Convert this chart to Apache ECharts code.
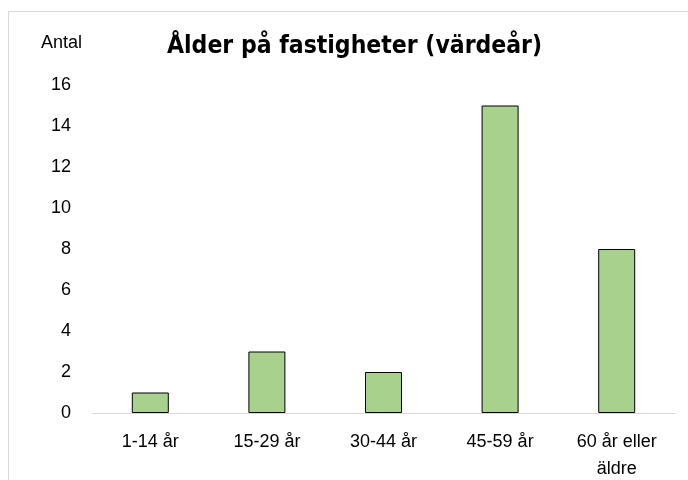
<!DOCTYPE html>
<html>
<head>
<meta charset="utf-8">
<script src="https://cdn.jsdelivr.net/npm/echarts@6/dist/echarts.min.js"></script>
<style>
  html, body { margin: 0; padding: 0; background: #fff; }
  #chart { width: 688px; height: 480px; }
</style>
</head>
<body>
<div id="chart"></div>
<script>
// kategorier och värden
var categories = ['1-14 år', '15-29 år', '30-44 år', '45-59 år', '60 år eller\näldre']
var antal = [1, 3, 2, 15, 8]
var yTicks = [0, 2, 4, 6, 8, 10, 12, 14, 16]

var font = "'Liberation Sans', Arial, sans-serif"
var titleFont = "'DejaVu Sans Condensed', 'Liberation Sans', sans-serif"

var myChart = echarts.init(document.getElementById('chart'))
var option = {
  animation: false,
  backgroundColor: '#fff',
  title: [
    {
      text: 'Ålder på fastigheter (värdeår)',
      left: 167,
      top: 34,
      padding: 0,
      textStyle: { fontFamily: titleFont, fontSize: 24.5, fontWeight: 'bold', color: '#000' }
    },
    {
      text: 'Antal',
      left: 41,
      top: 34,
      padding: 0,
      textStyle: { fontFamily: font, fontSize: 18, fontWeight: 'normal', color: '#000' }
    }
  ],
  graphic: [
    {
      type: 'rect',
      shape: { x: 8.5, y: 11.5, width: 720, height: 520 },
      style: { fill: 'none', stroke: '#d9d9d9', lineWidth: 1 },
      silent: true
    }
  ],
  grid: { left: 92, right: 13, top: 85, bottom: 67, outerBoundsMode: 'none' },
  xAxis: {
    type: 'category',
    data: categories,
    axisLine: { lineStyle: { color: '#d9d9d9', width: 1 } },
    axisTick: { length: 6, lineStyle: { color: '#bfbfbf' } },
    axisLabel: {
      fontFamily: font,
      fontSize: 18,
      color: '#000',
      margin: 16,
      lineHeight: 27
    }
  },
  yAxis: {
    type: 'value',
    min: yTicks[0],
    max: yTicks[yTicks.length - 1],
    interval: 2,
    axisLine: { show: false },
    axisTick: { show: false },
    splitLine: { show: false },
    axisLabel: { fontFamily: font, fontSize: 18, color: '#000', margin: 21 }
  },
  series: [
    {
      name: 'Antal',
      type: 'bar',
      data: antal,
      barWidth: 37,
      itemStyle: { color: '#a9d18e', borderColor: '#000', borderWidth: 1 }
    }
  ]
}
myChart.setOption(option)
</script>
</body>
</html>
